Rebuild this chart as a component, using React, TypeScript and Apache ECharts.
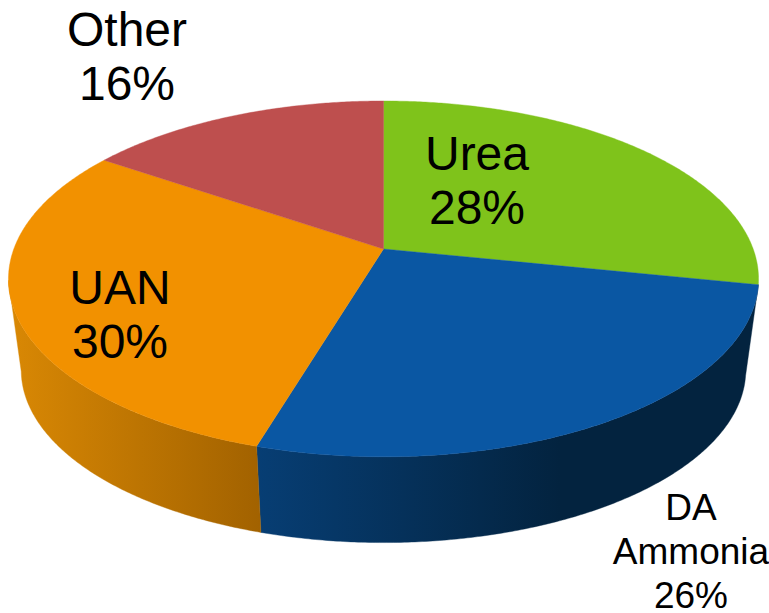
import React, { useEffect, useRef } from "react";
import * as echarts from "echarts";

// Data (clockwise from 12 o'clock); the labels show them rounded
const sliceNames = ["Urea", "DA\nAmmonia", "UAN", "Other"];
const sliceShares = [28.2, 26.45, 29.85, 15.5];

// Styling, kept apart from the data
const topColors = ["#7FC31B", "#0A57A3", "#F29100", "#BE4F4E"];
const sideStops: (null | [number, number, [number, string][]])[] = [
  null,
  [256, 560, [[0, "#073E74"], [1, "#03233F"]]],
  [10, 260, [[0, "#D98804"], [1, "#A26200"]]],
  null,
];
const labelStyles = [
  { x: 477, y: 153, size: 48, gap: 54 },
  { x: 691, y: 507, size: 37, gap: 44 },
  { x: 120, y: 287, size: 48, gap: 54 },
  { x: 127, y: 29, size: 48, gap: 54 },
];

// Perspective projection of the pie disc onto the page
const CX = 383.5, APEX_Y = 249, RX = 369.7, RY = 172.9, K = 0.168;
const BOTTOM_APEX_Y = 341, BOTTOM_SCALE_X = 0.966, BOTTOM_SCALE_Y = 0.97;
const VISIBLE_FROM = 0.176; // disc "nearness" at which the rim silhouette starts

function project(theta: number, bottom = false) {
  const sx = Math.sin(theta);
  const sy = -Math.cos(theta);
  const w = 1 - K * sy;
  if (bottom) {
    return [CX + (RX * sx * BOTTOM_SCALE_X) / w, BOTTOM_APEX_Y + (RY * sy * BOTTOM_SCALE_Y) / w];
  }
  return [CX + (RX * sx) / w, APEX_Y + (RY * sy) / w];
}

function arc(a0: number, a1: number, bottom = false) {
  const n = Math.max(2, Math.ceil(Math.abs(a1 - a0) * 120));
  const pts: number[][] = [];
  for (let i = 0; i <= n; i++) pts.push(project(a0 + ((a1 - a0) * i) / n, bottom));
  return pts;
}

const total = sliceShares.reduce((a, b) => a + b, 0);

function renderSlice(params: any, api: any) {
  const i = params.dataIndex;
  const before = sliceShares.slice(0, i).reduce((a, b) => a + b, 0);
  const a0 = (before / total) * Math.PI * 2;
  const a1 = a0 + (api.value(0) / total) * Math.PI * 2;
  const children: any[] = [];

  const stops = sideStops[i];
  if (stops) {
    const limit = Math.acos(-VISIBLE_FROM);
    const s0 = Math.max(a0, limit);
    const s1 = Math.min(a1, Math.PI * 2 - limit);
    const fill = {
      type: "linear",
      x: stops[0], y: 0, x2: stops[1], y2: 0,
      global: true,
      colorStops: stops[2].map(([offset, color]) => ({ offset, color })),
    };
    children.push({
      type: "polygon",
      shape: { points: [...arc(s0, s1), ...arc(s1, s0, true)] },
      style: { fill, stroke: fill, lineWidth: 0.4 },
    });
  }

  children.push({
    type: "polygon",
    shape: { points: [[CX, APEX_Y], ...arc(a0, a1)] },
    style: { fill: topColors[i], stroke: topColors[i], lineWidth: 0.4 },
  });

  const lab = labelStyles[i];
  const lines = [...sliceNames[i].split("\n"), `${Math.round(sliceShares[i])}%`];
  lines.forEach((text, n) => {
    children.push({
      type: "text",
      z2: 10,
      style: {
        text,
        x: lab.x,
        y: lab.y + n * lab.gap,
        fill: "#000000",
        font: `${lab.size}px "Liberation Sans", Arial, sans-serif`,
        textAlign: "center",
        textVerticalAlign: "middle",
      },
    });
  });
  return { type: "group", children };
}

export default function App() {
  const ref = useRef<HTMLDivElement>(null);
  useEffect(() => {
    document.body.style.margin = "0";
    const chart = echarts.init(ref.current!, undefined, { renderer: "svg" });
    chart.setOption({
      animation: false,
      backgroundColor: "#ffffff",
      series: [
        {
          type: "custom",
          coordinateSystem: "none",
          silent: true,
          clip: false,
          data: sliceShares.map((v, i) => ({ name: sliceNames[i], value: [v] })),
          renderItem: renderSlice,
        },
      ],
    });
    return () => chart.dispose();
  }, []);
  return <div ref={ref} style={{ width: 769, height: 613 }} />;
}
